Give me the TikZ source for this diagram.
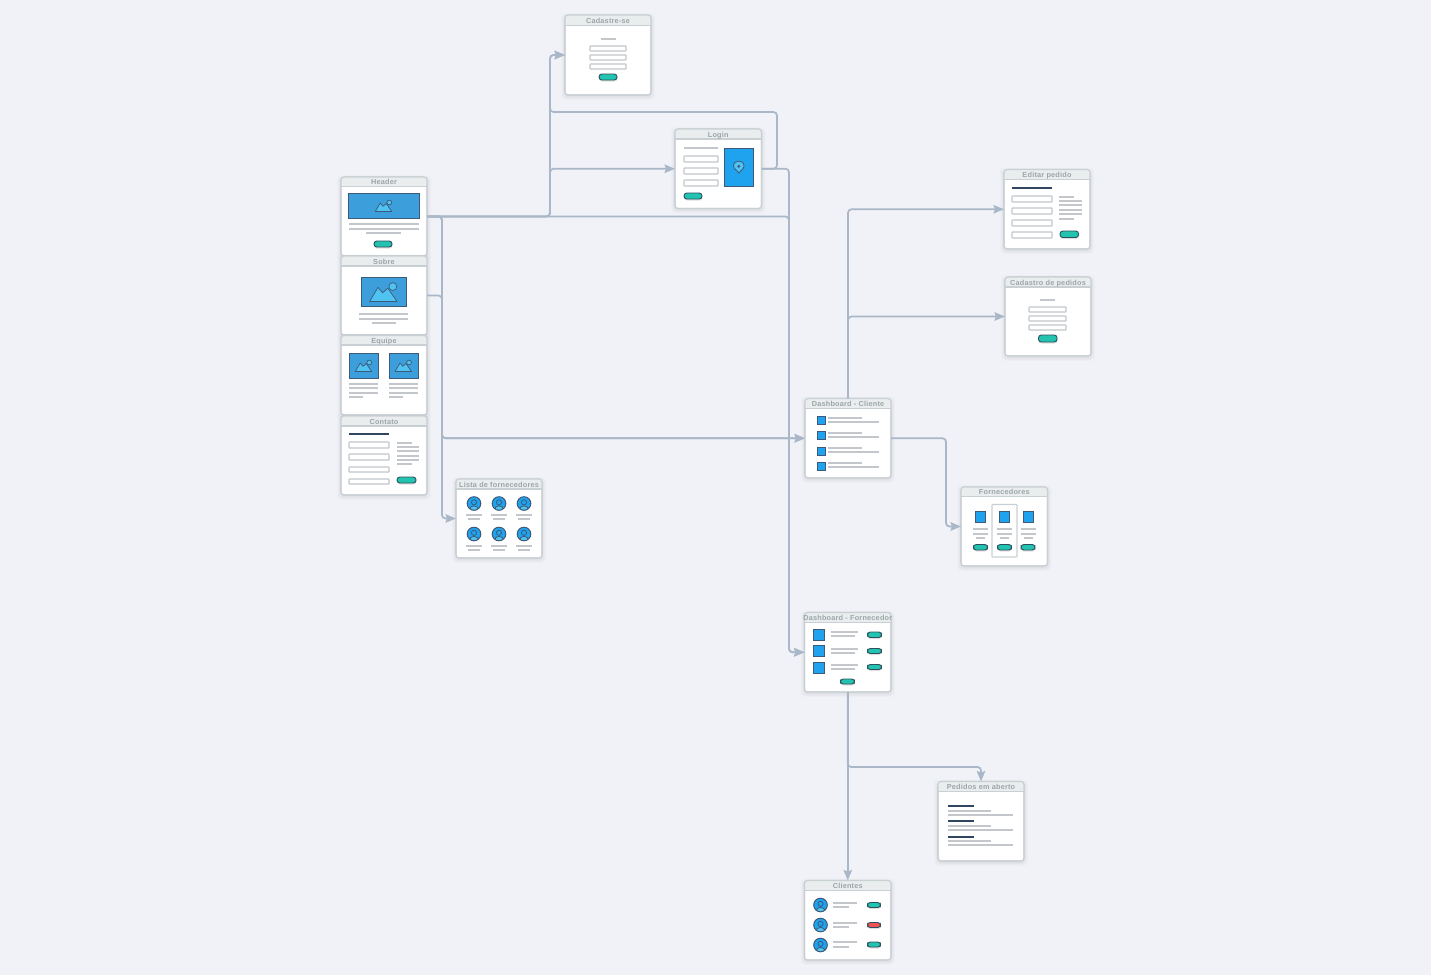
\documentclass[tikz,border=0pt]{standalone}
\usepackage{fontspec}
\setmainfont{Liberation Sans}
\newfontfamily\ttlfont[LetterSpace=3]{Liberation Sans}
\usetikzlibrary{arrows.meta}
\definecolor{bgc}{HTML}{F0F2F7}
\definecolor{cardline}{HTML}{C9D0D4}
\definecolor{titlefill}{HTML}{E9EDEE}
\definecolor{titletext}{HTML}{9BA6A8}
\definecolor{lightline}{HTML}{C3C7CC}
\definecolor{darkline}{HTML}{2F4560}
\definecolor{connc}{HTML}{A9B7C8}
\definecolor{imgblue}{HTML}{3C9FDB}
\definecolor{imgedge}{HTML}{3E5A78}
\definecolor{skyc}{HTML}{4FC3F1}
\definecolor{sqblue}{HTML}{1FA3EE}
\definecolor{btnteal}{HTML}{22C4B0}
\definecolor{btnred}{HTML}{EF5350}
\definecolor{btnedge}{HTML}{2B5060}
\tikzset{
  cardbox/.style={draw=cardline,fill=white,line width=1.1pt,rounded corners=3pt,inner sep=0pt,outer sep=0pt},
  ttl/.style={text=titletext,font=\ttlfont\bfseries\fontsize{7.3}{8}\selectfont,inner sep=0pt,text height=5.2pt,text depth=1.4pt},
  conn/.style={draw=connc,line width=1.7pt,rounded corners=3.5pt},
  arr/.style={conn,-{Stealth[length=10.5pt,width=8.5pt,inset=1.5pt]}},
  rule/.style={draw=lightline,line width=1.3pt},
  dark/.style={draw=darkline,line width=1.3pt},
  field/.style={draw=lightline,fill=white,line width=1.2pt,rounded corners=.6pt},
  edge/.style={draw=imgedge,line width=.9pt},
}
\newcommand{\card}[7]{%
  \foreach \s/\o in {5/.012,4/.015,3/.018,2/.02}{\fill[black,opacity=\o,rounded corners=4pt] ({#2-\s+1},{#3-\s+3}) rectangle ({#4+\s-1},{#5+\s});}
  \node[cardbox,name=#1,minimum width={(#4-#2)*1pt},minimum height={(#5-#3)*1pt}] at ({(#2+#4)/2},{(#3+#5)/2}) {};
  \begin{scope}\clip[rounded corners=3pt] (#2,#3) rectangle (#4,#5);
    \fill[titlefill] (#2,#3) rectangle (#4,#6);
  \end{scope}
  \draw[cardline,line width=1.1pt] (#2,#6) -- (#4,#6);
  \draw[cardline,line width=1.1pt,rounded corners=3pt] (#2,#3) rectangle (#4,#5);
  \node[ttl,name=#1-title] at ({(#2+#4)/2},{(#3+#6)/2+1.1}) {#7};
}
\newcommand{\hr}[3]{\draw[rule] (#1,{round(#2)}) -- (#3,{round(#2)});}
\newcommand{\hd}[3]{\draw[dark] (#1,{round(#2)}) -- (#3,{round(#2)});}
\newcommand{\fld}[4]{\draw[field] (#1,#2) rectangle (#3,#4);}
\newcommand{\btnp}[5][btnteal]{%
  \fill[black,opacity=.12,rounded corners=3pt] (#2,{#3+1}) rectangle ({#4+.5},{#5+1.5});
  \draw[btnedge,fill=#1,line width=.9pt,rounded corners=2.8pt] (#2,#3) rectangle (#4,#5);}
\newcommand{\sqb}[4]{\draw[edge,fill=sqblue,line width=.9pt] (#1,#2) rectangle (#3,#4);}
\newcommand{\imgp}[5]{%
  \draw[edge,fill=imgblue,line width=.9pt] (#1,#2) rectangle (#3,#4);
  \begin{scope}[shift={({(#1+#3)/2},{(#2+#4)/2})},scale=#5]
    \draw[edge,fill=skyc,line width=.7pt,line join=round] (-8.5,6) -- (-3.5,-2.5) -- (-.7,.8) -- (2.5,-2) -- (8,6) -- cycle;
    \draw[edge,fill=skyc,line width=.7pt] (5.5,-3) circle (2.4);
  \end{scope}}
\newcommand{\avatar}[2]{%
  \begin{scope}[shift={(#1,#2)}]
    \fill[sqblue] (0,0) circle (6.8);
    \begin{scope}\clip (0,0) circle (6.8);
      \draw[edge,fill=skyc,line width=.8pt] (0,6.5) ellipse (4.6 and 4.2);
    \end{scope}
    \draw[edge,fill=sqblue,line width=.8pt] (0,-1.2) circle (2.6);
    \draw[edge,line width=1pt] (0,0) circle (6.8);
  \end{scope}}
\begin{document}
\begin{tikzpicture}[x=1pt,y=-1pt]
\useasboundingbox[fill=bgc] (0,0) rectangle (1431,975);
% routing rails
\coordinate (railL) at (442,0);
\coordinate (railM) at (550,112);
\coordinate (railT) at (777,112);
\coordinate (railR) at (789,0);
\coordinate (railD) at (848,767);
\coordinate (railE) at (946,0);
% cards
\card{cad}{565}{15}{651}{95}{25.5}{Cadastre-se}
\card{login}{675}{129}{761.5}{208.5}{139}{Login}
\card{hdr}{341}{177}{427}{256}{186.5}{Header}
\card{sob}{341}{256}{427}{335}{266}{Sobre}
\card{eq}{341}{335.5}{427}{415}{345}{Equipe}
\card{cont}{341}{416}{427}{495}{426}{Contato}
\card{lista}{456}{479}{542}{558}{489}{Lista de fornecedores}
\card{edit}{1004}{169.5}{1090}{249}{179.5}{Editar pedido}
\card{cped}{1005}{277}{1091}{356}{287}{Cadastro de pedidos}
\card{dc}{805}{398.5}{891}{478}{408.5}{Dashboard - Cliente}
\card{forn}{961}{487}{1047.5}{566}{496.5}{Fornecedores}
\card{df}{804.5}{612.5}{891}{692}{622.5}{Dashboard - Fornecedor}
\card{ped}{938}{781.5}{1024}{861}{791.5}{Pedidos em aberto}
\card{cli}{804.5}{880.5}{891}{960}{890.5}{Clientes}
% connectors
\draw[arr] (hdr.east) -- (hdr.east -| railM) |- (cad.west);
\draw[arr] (hdr.east) -- (hdr.east -| railM) |- (login.west);
\draw[arr] (hdr.east) -- (hdr.east -| railL) |- (lista.west);
\draw[arr] (hdr.east) -- (hdr.east -| railL) |- (dc.west);
\draw[arr] (hdr.east) -- (hdr.east -| railR) |- (df.west);
\draw[arr] (sob.east) -- (sob.east -| railL) |- (dc.west);
\draw[arr] (login.east) -- (login.east -| railT) -- (railT) -- (railM) |- (cad.west);
\draw[arr] (login.east) -- (login.east -| railR) |- (df.west);
\draw[arr] (dc.north) |- (edit.west);
\draw[arr] (dc.north) |- (cped.west);
\draw[arr] (dc.east) -- (dc.east -| railE) |- (forn.west);
\draw[arr] (df.south) -- (cli.north);
\draw[arr] (df.south) -- (df.south |- railD) -- (railD -| ped.north) -- (ped.north);
% Cadastre-se
\hr{601}{39}{616}
\fld{590}{46}{626}{51}\fld{590}{55}{626}{60}\fld{590}{64}{626}{69}
\btnp{599}{74}{617}{80}
% Login
\hr{684}{148}{718}
\fld{684}{156}{718}{162}\fld{684}{168}{718}{174}\fld{684}{180}{718}{186}
\btnp{684}{193}{702}{199}
\draw[edge,fill=sqblue,line width=.9pt] (724,148) rectangle (753,186);
\draw[edge,fill=skyc,line width=.8pt] (733.5,166) .. controls (733.5,159.5) and (744,159.5) .. (744,166) .. controls (744,169) and (740,171) .. (739,173) .. controls (738,171) and (733.5,169) .. (733.5,166) -- cycle;
\fill[imgedge] (738.8,166.3) circle (1.6);
% Header
\imgp{348.5}{193}{419}{218}{1}
\hr{349}{224}{419}\hr{349}{229}{419}\hr{366}{233}{401}
\btnp{374}{241}{392}{247}
% Sobre
\imgp{361.5}{277}{406}{306}{1.65}
\hr{359}{314}{408}\hr{359}{319}{408}\hr{372}{323}{396}
% Equipe
\imgp{349.5}{353}{378}{378}{1}\imgp{389}{353}{418}{378}{1}
\hr{349}{384}{378}\hr{349}{388}{378}\hr{349}{393}{378}\hr{349}{397}{363}
\hr{389}{384}{418}\hr{389}{388}{418}\hr{389}{393}{418}\hr{389}{397}{403}
% Contato
\hd{349}{434}{389}
\fld{349}{442}{389}{448}\fld{349}{454}{389}{460}\fld{349}{467}{389}{472}\fld{349}{479}{389}{484}
\hr{397}{443}{412}\hr{397}{447}{419}\hr{397}{451}{419}\hr{397}{456}{419}\hr{397}{460}{419}\hr{397}{464}{412}
\btnp{397}{477}{416}{483}
% Lista de fornecedores
\foreach \ax in {474,499,524}{
  \avatar{\ax}{503.5}\avatar{\ax}{534}
  \hr{\ax-8}{515}{\ax+8}\hr{\ax-6}{519}{\ax+6}
  \hr{\ax-8}{546}{\ax+8}\hr{\ax-6}{550}{\ax+6}
}
% Editar pedido
\hd{1012}{188}{1052}
\fld{1012}{196}{1052}{202}\fld{1012}{208}{1052}{214}\fld{1012}{220}{1052}{226}\fld{1012}{232}{1052}{238}
\hr{1059}{197}{1074}\hr{1059}{201}{1082}\hr{1059}{205}{1082}\hr{1059}{210}{1082}\hr{1059}{214}{1082}\hr{1059}{219}{1074}
\btnp{1060}{231}{1078.5}{237.5}
% Cadastro de pedidos
\hr{1040}{300}{1055}
\fld{1029}{307}{1066}{312}\fld{1029}{316}{1066}{321}\fld{1029}{325}{1066}{330}
\btnp{1038.5}{335}{1057}{342}
% Dashboard - Cliente
\sqb{817}{416}{825}{424}\sqb{817}{431}{825}{439}\sqb{817}{447}{825}{455}\sqb{817}{462}{825}{470}
\hr{828}{418}{862}\hr{828}{422}{879}
\hr{828}{433}{862}\hr{828}{437}{879}
\hr{828}{448}{862}\hr{828}{452}{879}
\hr{828}{463}{862}\hr{828}{467}{879}
% Fornecedores
\draw[draw=cardline,fill=white,line width=1.1pt,rounded corners=.6pt] (992,504.5) rectangle (1017,557);
\sqb{975.5}{511.5}{985.5}{522}\sqb{999}{511.5}{1009.5}{522}\sqb{1023}{511.5}{1033}{522}
\foreach \fx in {980.5,1004.5,1028}{
  \hr{\fx-7.5}{529}{\fx+7.5}\hr{\fx-7.5}{534}{\fx+7.5}\hr{\fx-4.5}{538}{\fx+4.5}
  \btnp{\fx-7}{544.5}{\fx+7}{550}
}
% Dashboard - Fornecedor
\sqb{813.5}{629}{824}{640}\sqb{813.5}{645.5}{824}{656}\sqb{813.5}{662}{824}{673}
\hr{831}{632}{858}\hr{831}{636}{855}
\hr{831}{649}{858}\hr{831}{653}{855}
\hr{831}{665}{858}\hr{831}{669}{855}
\btnp{867.5}{632}{881.5}{637.5}\btnp{867.5}{648.5}{881.5}{653.5}\btnp{867.5}{664.5}{881.5}{669.5}
\btnp{840.5}{679}{854.5}{684}
% Pedidos em aberto
\hd{948}{806}{974}\hr{948}{811}{991}\hr{948}{815}{1013}
\hd{948}{821}{974}\hr{948}{826}{991}\hr{948}{830}{1013}
\hd{948}{837}{974}\hr{948}{841}{991}\hr{948}{845}{1013}
% Clientes
\avatar{820.5}{905}\avatar{820.5}{925}\avatar{820.5}{945}
\hr{833}{903}{857}\hr{833}{907}{849}
\hr{833}{923}{857}\hr{833}{927}{849}
\hr{833}{942}{857}\hr{833}{947}{849}
\btnp{867.5}{902.5}{880.5}{907.5}\btnp[btnred]{867.5}{922.5}{880.5}{927.5}\btnp{867.5}{942}{880.5}{947}
\end{tikzpicture}
\end{document}
